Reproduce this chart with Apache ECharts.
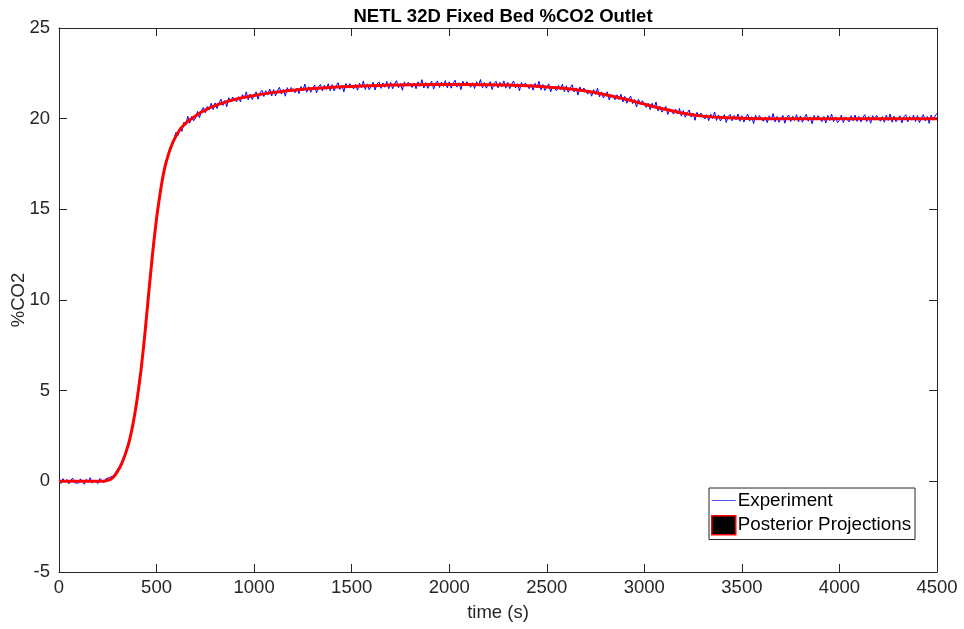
<!DOCTYPE html>
<html>
<head>
<meta charset="utf-8">
<script src="https://cdn.jsdelivr.net/npm/echarts@6/dist/echarts.min.js"></script>
<style>html,body{margin:0;padding:0;background:#fff}#c{width:964px;height:629px}</style>
</head>
<body>
<div id="c"></div>
<script>
// ---- Data ----
const titleText = 'NETL 32D Fixed Bed %CO2 Outlet';
const xName = 'time (s)';
const yName = '%CO2';
const xTicks = [0, 500, 1000, 1500, 2000, 2500, 3000, 3500, 4000, 4500];
const yTicks = [-5, 0, 5, 10, 15, 20, 25];

// Experiment: sampled every 10 s starting at 0 s (one row = 100 s)
const expStart = 0;
const expStep = 10;
const expValues = [
  0.08,-0.12,0.15,-0.04,0.1,-0.14,0.05,0.18,-0.08,0.02,
  -0.1,0.14,0.03,-0.16,0.12,-0.06,0.2,-0.1,0.07,-0.03,
  -0.12,0.16,0.04,-0.08,0.14,0.06,0.22,0.12,0.3,0.48,
  0.65,0.82,1.02,1.3,1.56,1.92,2.28,2.76,3.28,3.9,
  4.55,5.35,6.15,7.15,8.15,9.3,10.45,11.55,12.65,13.6,
  14.55,15.35,16.05,16.7,17.25,17.7,18.05,18.4,18.62,18.95,
  19.25,19.07,19.5,19.3,19.81,19.67,20.13,19.75,20.12,19.88,
  20.03,20.4,20.05,20.44,20.62,20.32,20.67,20.48,20.85,20.5,
  20.87,20.56,20.86,21.08,20.73,21.0,20.66,21.15,20.94,21.19,
  21.26,20.93,21.21,20.92,21.32,21.1,21.48,21.04,21.36,21.06,
  21.16,21.48,21.07,21.42,21.56,21.22,21.54,21.31,21.64,21.25,
  21.6,21.26,21.54,21.73,21.36,21.61,21.24,21.71,21.49,21.72,
  21.77,21.43,21.69,21.38,21.77,21.54,21.91,21.46,21.76,21.45,
  21.54,21.85,21.42,21.76,21.89,21.53,21.84,21.61,21.93,21.54,
  21.88,21.53,21.8,21.98,21.61,21.85,21.48,21.94,21.71,21.93,
  21.98,21.64,21.89,21.57,21.95,21.71,22.08,21.61,21.92,21.6,
  21.71,22.01,21.58,21.91,22.03,21.67,21.97,21.73,22.05,21.65,
  22.0,21.65,21.91,22.09,21.71,21.95,21.57,22.03,21.79,22.01,
  22.07,21.72,21.97,21.65,22.03,21.79,22.15,21.69,21.99,21.67,
  21.76,22.06,21.63,21.96,22.08,21.72,22.02,21.78,22.1,21.7,
  22.03,21.68,21.94,22.12,21.74,21.98,21.6,22.06,21.82,22.04,
  22.08,21.73,21.98,21.66,22.04,21.8,22.16,21.7,22.0,21.68,
  21.74,22.04,21.61,21.94,22.06,21.7,22.0,21.76,22.08,21.68,
  22.0,21.65,21.9,22.08,21.69,21.93,21.54,22.0,21.75,21.97,
  22.01,21.65,21.9,21.57,21.95,21.7,22.06,21.59,21.89,21.56,
  21.63,21.92,21.48,21.8,21.91,21.54,21.84,21.59,21.9,21.49,
  21.81,21.45,21.7,21.87,21.47,21.7,21.3,21.75,21.49,21.69,
  21.72,21.35,21.58,21.24,21.6,21.34,21.68,21.2,21.48,21.14,
  21.2,21.48,21.03,21.33,21.43,21.04,21.32,21.05,21.35,20.92,
  21.23,20.85,21.09,21.24,20.83,21.05,20.64,21.07,20.8,20.99,
  21.0,20.62,20.85,20.5,20.85,20.59,20.92,20.43,20.7,20.36,
  20.41,20.68,20.23,20.54,20.63,20.25,20.53,20.26,20.56,20.14,
  20.45,20.08,20.32,20.48,20.08,20.3,19.91,20.35,20.1,20.31,
  20.34,19.98,20.22,19.89,20.26,20.01,20.37,19.9,20.2,19.87,
  19.92,20.22,19.79,20.12,20.24,19.88,20.18,19.94,20.26,19.86,
  20.16,19.81,20.07,20.25,19.87,20.11,19.73,20.19,19.95,20.17,
  20.2,19.85,20.1,19.78,20.16,19.92,20.28,19.82,20.12,19.8,
  19.88,20.18,19.75,20.08,20.2,19.84,20.14,19.9,20.22,19.82,
  20.15,19.8,20.06,20.24,19.86,20.1,19.72,20.18,19.94,20.16,
  20.22,19.83,20.12,19.76,20.18,19.9,20.25,19.84,20.1,19.78,
  19.9,20.2,19.78,20.1,20.18,19.82,20.16,19.88,20.2,19.85,
  20.12,19.82,20.08,20.22,19.84,20.12,19.75,20.16,19.92,20.18,
  20.18,19.86,20.12,19.8,20.2,19.9,20.26,19.8,20.14,19.83,
  19.86,20.16,19.77,20.1,20.22,19.82,20.12,19.92,20.2,19.84,
  20.17,19.78,20.05,20.22,19.88,20.12,19.74,20.2,19.92,20.14,
  20.3
];

// Posterior projection (smooth model curve)
const projTime = [0,100,200,250,280,300,320,340,360,380,400,420,440,460,480,500,520,540,560,580,600,620,640,660,680,700,720,740,760,780,800,820,840,860,880,900,920,940,960,980,1000,1100,1200,1300,1400,1500,1600,1700,1800,1900,2000,2100,2200,2300,2400,2500,2600,2700,2800,2900,3000,3100,3200,3300,3400,3500,3600,3700,3800,3900,4000,4100,4200,4300,4400,4500];
const projValue = [0,0,0,0.05,0.25,0.55,0.95,1.5,2.2,3.2,4.5,6.1,8.1,10.4,12.6,14.5,16.0,17.2,18.0,18.6,19.05,19.4,19.65,19.85,20.0,20.15,20.3,20.42,20.53,20.63,20.72,20.8,20.87,20.94,21.0,21.06,21.11,21.16,21.2,21.24,21.28,21.45,21.57,21.66,21.73,21.78,21.82,21.85,21.87,21.88,21.88,21.88,21.87,21.85,21.81,21.75,21.66,21.52,21.32,21.08,20.8,20.53,20.3,20.14,20.06,20.02,20.0,20.0,20.0,20.0,20.0,20.0,20.0,20.0,20.0,20.0];

const expData = expValues.map((v, i) => [expStart + i * expStep, v]);
const projData = projTime.map((t, i) => [t, projValue[i]]);

const FONT = '"Liberation Sans", Arial, Helvetica, sans-serif';
const AX = '#262626';

const chart = echarts.init(document.getElementById('c'), null, {renderer: 'canvas'});

function baseAxis(extra) {
  return Object.assign({
    axisLine: {show: true, onZero: false, lineStyle: {color: AX, width: 1}},
    axisTick: {show: true, inside: true, length: 8, lineStyle: {color: AX, width: 1}},
    splitLine: {show: false},
    axisLabel: {show: true, color: AX, fontSize: 18.5, fontFamily: FONT}
  }, extra);
}
const plain = v => String(v);

chart.setOption({
  animation: false,
  backgroundColor: '#fff',
  title: {
    text: titleText,
    left: 498,
    top: 2,
    textAlign: 'center',
    textStyle: {fontFamily: FONT, fontSize: 18.5, fontWeight: 'bold', color: '#000'}
  },
  grid: {left: 59, right: 27, top: 28, bottom: 57, containLabel: false, outerBoundsMode: 'none'},
  xAxis: [
    baseAxis({type: 'value', position: 'bottom', min: xTicks[0], max: xTicks[xTicks.length-1], interval: 500,
      name: xName, nameLocation: 'middle', nameGap: 31, nameMoveOverlap: false,
      nameTextStyle: {fontFamily: FONT, fontSize: 18.5, color: AX},
      axisLabel: {show: true, color: AX, fontSize: 18.5, fontFamily: FONT, margin: 6, formatter: plain}}),
    baseAxis({type: 'value', position: 'top', min: xTicks[0], max: xTicks[xTicks.length-1], interval: 500,
      axisLabel: {show: false}})
  ],
  yAxis: [
    baseAxis({type: 'value', position: 'left', min: yTicks[0], max: yTicks[yTicks.length-1], interval: 5,
      name: yName, nameLocation: 'middle', nameGap: 31, nameMoveOverlap: false,
      nameTextStyle: {fontFamily: FONT, fontSize: 18.5, color: AX},
      axisLabel: {show: true, color: AX, fontSize: 18.5, fontFamily: FONT, margin: 9, formatter: plain}}),
    baseAxis({type: 'value', position: 'right', min: yTicks[0], max: yTicks[yTicks.length-1], interval: 5,
      axisLabel: {show: false}})
  ],
  legend: {
    show: true,
    orient: 'vertical',
    left: 709,
    top: 488,
    padding: [3, 4, 4, 2],
    itemGap: 5,
    itemWidth: 24,
    itemHeight: 19,
    backgroundColor: '#fff',
    borderColor: AX,
    borderWidth: 1,
    borderRadius: 0,
    textStyle: {fontFamily: FONT, fontSize: 18.8, color: '#000', padding: [0, 0, 0, -3]},
    data: [
      {name: 'Experiment', icon: 'path://M0,0H24V1H0Z', itemStyle: {color: '#5050ff'}},
      {name: 'Posterior Projections', icon: 'rect', itemStyle: {color: '#000', borderColor: '#ff0000', borderWidth: 1.5}}
    ]
  },
  series: [
    {
      name: 'Experiment', type: 'line', xAxisIndex: 0, yAxisIndex: 0,
      data: expData, showSymbol: false, symbol: 'none',
      lineStyle: {color: '#0000ff', width: 1}, itemStyle: {color: '#0000ff'},
      z: 2
    },
    {
      name: 'Posterior Projections', type: 'line', xAxisIndex: 0, yAxisIndex: 0,
      data: projData, showSymbol: false, symbol: 'none', smooth: 0.2,
      lineStyle: {color: '#ff0000', width: 3}, itemStyle: {color: '#000'},
      z: 3
    }
  ]
});
</script>
</body>
</html>
